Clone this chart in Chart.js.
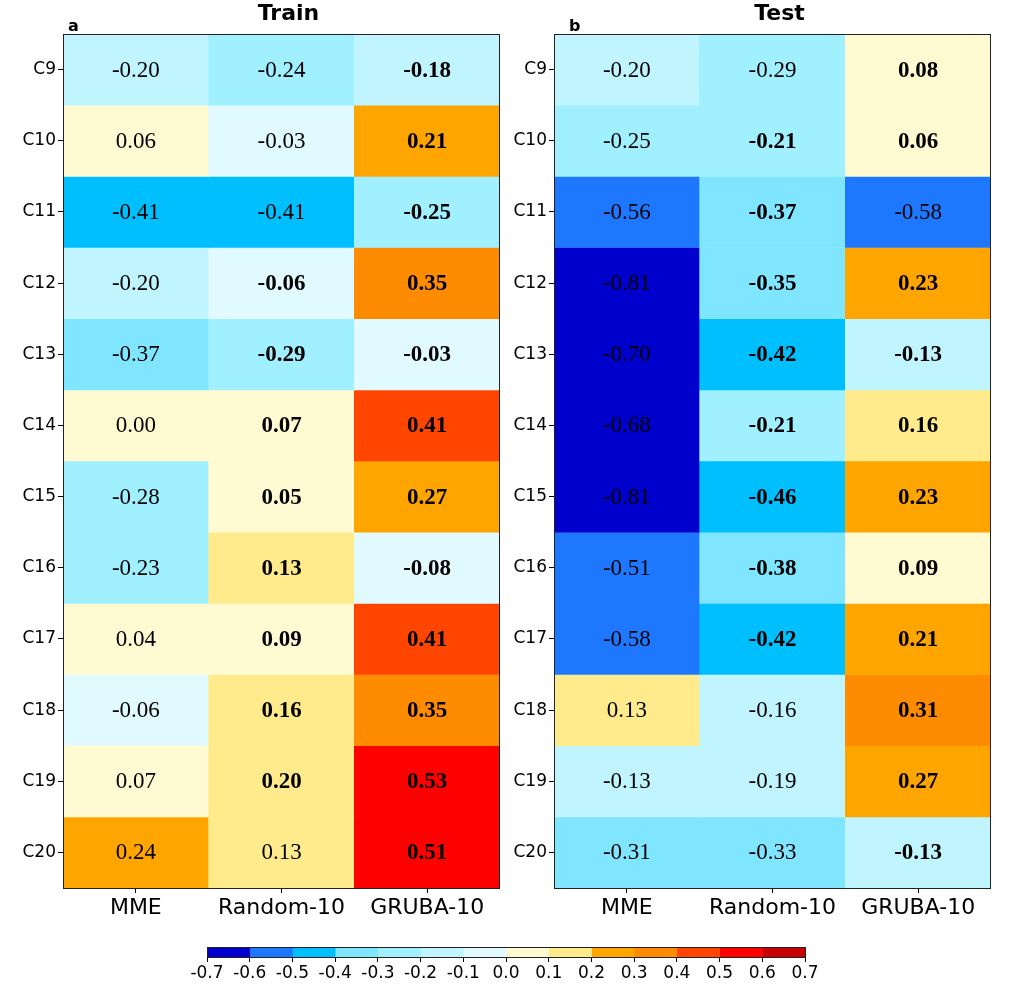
<!DOCTYPE html>
<html>
<head>
<meta charset="utf-8">
<script src="https://cdn.jsdelivr.net/npm/chart.js@4.4.0/dist/chart.umd.min.js"></script>
<style>
  html, body { margin: 0; padding: 0; background: #fff; width: 1024px; height: 987px; overflow: hidden; }
  .box { position: absolute; }
</style>
</head>
<body>
<div class="box" style="left:0px; top:0px; width:510px; height:935px;"><canvas id="train" width="510" height="935"></canvas></div>
<div class="box" style="left:491px; top:0px; width:510px; height:935px;"><canvas id="test" width="510" height="935"></canvas></div>
<div class="box" style="left:0px; top:935px; width:1024px; height:52px;"><canvas id="cbar" width="1024" height="52"></canvas></div>
<script>
// ---- data ----
const rows = ['C9','C10','C11','C12','C13','C14','C15','C16','C17','C18','C19','C20'];
const models = ['MME','Random-10','GRUBA-10'];

const trainMME    = [-0.199, 0.06, -0.41, -0.199, -0.37, 0.00, -0.28, -0.23, 0.04, -0.06, 0.07, 0.24];
const trainRandom = [-0.24, -0.03, -0.41, -0.06, -0.29, 0.07, 0.05, 0.13, 0.09, 0.16, 0.199, 0.13];
const trainGRUBA  = [-0.18, 0.21, -0.25, 0.35, -0.03, 0.41, 0.27, -0.08, 0.41, 0.35, 0.53, 0.51];

const testMME     = [-0.199, -0.25, -0.56, -0.81, -0.70, -0.68, -0.81, -0.51, -0.58, 0.13, -0.13, -0.31];
const testRandom  = [-0.29, -0.21, -0.37, -0.35, -0.42, -0.21, -0.46, -0.38, -0.42, -0.16, -0.19, -0.33];
const testGRUBA   = [0.08, 0.06, -0.58, 0.23, -0.13, 0.16, 0.23, 0.09, 0.21, 0.31, 0.27, -0.13];

// bold (significant) flags per model
const trainBoldMME    = [0,0,0,0,0,0,0,0,0,0,0,0];
const trainBoldRandom = [0,0,0,1,1,1,1,1,1,1,1,0];
const trainBoldGRUBA  = [1,1,1,1,1,1,1,1,1,1,1,1];
const testBoldMME     = [0,0,0,0,0,0,0,0,0,0,0,0];
const testBoldRandom  = [0,1,1,1,1,1,1,1,1,0,0,0];
const testBoldGRUBA   = [1,1,0,1,1,1,1,1,1,1,1,1];

const cbarTicks = [-0.7,-0.6,-0.5,-0.4,-0.3,-0.2,-0.1,0.0,0.1,0.2,0.3,0.4,0.5,0.6,0.7];
const binColors = ['#0000cd','#1e78ff','#00bfff','#80e5ff','#a0f0ff','#c0f5ff','#e0faff',
                   '#fffad2','#ffeb8c','#ffa500','#ff8c00','#ff4500','#ff0000','#c80000'];

function colorFor(v) {
  let i = Math.floor(Math.round(v * 1000) / 100) + 7;
  if (i < 0) i = 0;
  if (i > 13) i = 13;
  return binColors[i];
}

const heatPlugin = {
  id: 'heatDeco',
  afterDraw(chart, args, opts) {
    const ctx = chart.ctx;
    const a = chart.chartArea;
    const xs = chart.scales.x, ys = chart.scales.y;
    ctx.save();
    // cell labels
    ctx.textAlign = 'center';
    ctx.textBaseline = 'middle';
    ctx.fillStyle = '#000';
    opts.cols.forEach((col, c) => {
      col.forEach((v, r) => {
        const bold = opts.bold[c][r];
        ctx.font = (bold ? 'bold ' : '') + '23px "Liberation Serif", "Times New Roman", serif';
        ctx.fillText(v.toFixed(2), xs.getPixelForValue(c), ys.getPixelForValue(r + 0.5) + 1);
      });
    });
    // frame
    ctx.strokeStyle = '#222';
    ctx.lineWidth = 1;
    ctx.strokeRect(Math.round(a.left) + 0.5, Math.round(a.top) + 0.5,
                   Math.round(a.right - a.left) - 1, Math.round(a.bottom - a.top));
    // title
    ctx.fillStyle = '#000';
    ctx.font = 'bold 22px "DejaVu Sans"';
    ctx.textBaseline = 'alphabetic';
    ctx.fillText(opts.title, (a.left + a.right) / 2 + 7, 20);
    // panel letter
    ctx.font = 'bold 16px "DejaVu Sans"';
    ctx.textAlign = 'left';
    ctx.fillText(opts.letter, a.left + opts.letterDx, a.top - 3);
    ctx.restore();
  }
};

function makeHeat(id, title, letter, letterDx, cols, bold) {
  const datasets = rows.map((name, r) => ({
    label: name,
    data: cols.map(() => [r, r + 1]),
    backgroundColor: cols.map(col => colorFor(col[r])),
    borderWidth: 0,
    grouped: false,
    barPercentage: 1,
    categoryPercentage: 1
  }));
  return new Chart(document.getElementById(id), {
    type: 'bar',
    data: { labels: models, datasets },
    options: {
      responsive: false,
      animation: false,
      events: [],
      layout: { padding: { top: 34, left: 0, right: 10, bottom: 0 } },
      plugins: {
        legend: { display: false },
        tooltip: { enabled: false },
        title: { display: false },
        heatDeco: { cols, bold, title, letter, letterDx }
      },
      scales: {
        x: {
          type: 'category',
          offset: true,
          border: { display: false },
          grid: { offset: false, drawOnChartArea: false, drawTicks: true, tickLength: 5, color: '#000', tickColor: '#000' },
          ticks: { color: '#000', font: { family: 'DejaVu Sans', size: 22 }, padding: 2, maxRotation: 0 },
          afterFit(s) { s.height = 47; }
        },
        y: {
          type: 'linear',
          min: 0, max: 12,
          reverse: true,
          border: { display: false },
          grid: { drawOnChartArea: false, drawTicks: true, tickLength: 5, color: '#000', tickColor: '#000' },
          afterBuildTicks(s) { s.ticks = rows.map((_, i) => ({ value: i + 0.5 })); },
          ticks: {
            color: '#000', font: { family: 'DejaVu Sans', size: 17 }, padding: 2,
            callback: (v) => rows[Math.round(v - 0.5)]
          },
          afterFit(s) { s.width = 63; }
        }
      }
    },
    plugins: [heatPlugin]
  });
}

makeHeat('train', 'Train', 'a', 5, [trainMME, trainRandom, trainGRUBA],
         [trainBoldMME, trainBoldRandom, trainBoldGRUBA]);
makeHeat('test', 'Test', 'b', 15, [testMME, testRandom, testGRUBA],
         [testBoldMME, testBoldRandom, testBoldGRUBA]);

// ---- colorbar ----
const framePlugin = {
  id: 'cbFrame',
  afterDraw(chart) {
    const a = chart.chartArea, ctx = chart.ctx;
    ctx.save();
    ctx.strokeStyle = '#222';
    ctx.lineWidth = 1;
    ctx.strokeRect(Math.round(a.left) + 0.5, Math.round(a.top) + 0.5,
                   Math.round(a.right - a.left), Math.round(a.bottom - a.top) - 1);
    ctx.restore();
  }
};

new Chart(document.getElementById('cbar'), {
  type: 'bar',
  data: {
    labels: [''],
    datasets: binColors.map((c, i) => ({
      data: [[cbarTicks[i], cbarTicks[i + 1]]],
      backgroundColor: c,
      borderWidth: 0,
      grouped: false,
      barPercentage: 1,
      categoryPercentage: 1
    }))
  },
  options: {
    indexAxis: 'y',
    responsive: false,
    animation: false,
    events: [],
    layout: { padding: { top: 12, left: 207, right: 219, bottom: 0 } },
    plugins: { legend: { display: false }, tooltip: { enabled: false } },
    scales: {
      y: { display: false },
      x: {
        type: 'linear',
        min: -0.7, max: 0.7,
        border: { display: false },
        grid: { drawOnChartArea: false, drawTicks: true, tickLength: 4, color: '#000', tickColor: '#000' },
        afterBuildTicks(s) { s.ticks = cbarTicks.map(v => ({ value: v })); },
        ticks: {
          color: '#000', font: { family: 'DejaVu Sans', size: 17 }, padding: 1,
          callback: (v) => (Math.abs(v) < 1e-9 ? 0 : v).toFixed(1)
        },
        afterFit(s) { s.height = 29; }
      }
    }
  },
  plugins: [framePlugin]
});
</script>
</body>
</html>
